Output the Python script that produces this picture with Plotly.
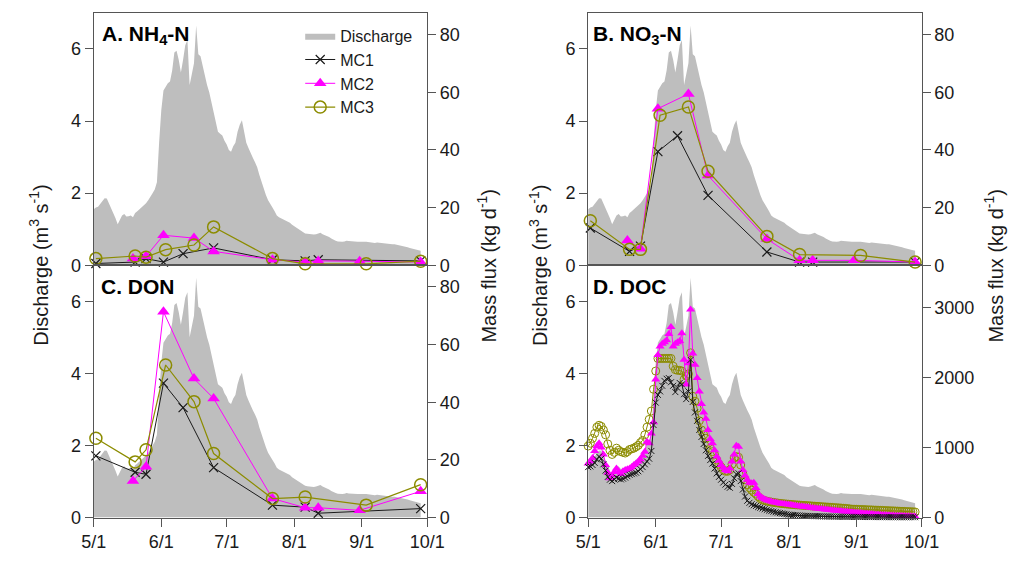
import plotly.graph_objects as go
import pandas as pd

YEAR = 2013

# ---------------- Data ----------------
# Daily discharge (m3 s-1) from 5/1
discharge = [
    1.55, 1.60, 1.62, 1.70, 1.80, 1.86, 1.85, 1.72, 1.60, 1.45,
    1.30, 1.14, 1.25, 1.38, 1.42, 1.35, 1.36, 1.38, 1.33, 1.45,
    1.50, 1.55, 1.60, 1.65, 1.72, 1.80, 1.92, 2.00, 2.10, 2.30,
    3.40, 4.30, 4.85, 4.95, 5.05, 5.10, 5.40, 5.90, 5.95, 5.70,
    5.35, 5.70, 6.10, 6.25, 5.00, 5.30, 5.60, 6.65, 5.85, 5.80,
    5.50, 5.25, 5.00, 4.80, 4.50, 4.25, 3.95, 3.70, 3.65, 3.60,
    3.45, 3.35, 3.20, 3.15, 3.30, 3.40, 3.70, 3.90, 4.02, 3.70,
    3.40, 3.25, 3.10, 2.98, 2.86, 2.72, 2.50, 2.30, 2.10, 1.95,
    1.80, 1.68, 1.60, 1.50, 1.38, 1.33, 1.30, 1.27, 1.25, 1.20,
    1.18, 1.12, 1.08, 1.04, 1.00, 0.95, 0.91, 0.88, 0.87, 0.86,
    0.86, 0.85, 0.86, 0.89, 0.90, 0.86, 0.84, 0.82, 0.78, 0.74,
    0.70, 0.68, 0.66, 0.65, 0.65, 0.66, 0.68, 0.67, 0.66, 0.66,
    0.66, 0.65, 0.65, 0.64, 0.65, 0.65, 0.64, 0.63, 0.63, 0.62,
    0.63, 0.62, 0.61, 0.60, 0.60, 0.59, 0.59, 0.58, 0.58, 0.57,
    0.56, 0.55, 0.53, 0.52, 0.50, 0.48, 0.46, 0.44, 0.43, 0.42,
    0.40,
]

# Sampling dates (month/day)
mc1_dates = ["5/2", "5/20", "5/25", "6/2", "6/11", "6/25", "7/22", "8/6", "8/12", "9/28"]
mc2_dates = ["5/19", "5/25", "6/2", "6/16", "6/25", "7/22", "8/6", "8/12", "8/31", "9/28"]
mc3_dates = ["5/2", "5/20", "5/25", "6/3", "6/16", "6/25", "7/22", "8/6", "9/3", "9/28"]

# Mass flux (kg d-1)
nh4_mc1 = [0.6, 1.1, 2.3, 1.1, 4.0, 6.0, 1.9, 1.5, 1.9, 1.5]
nh4_mc2 = [2.3, 3.1, 10.4, 9.4, 4.8, 1.9, 1.1, 1.5, 1.4, 1.1]
nh4_mc3 = [2.3, 3.2, 2.8, 5.4, 7.0, 13.3, 2.3, 0.5, 0.5, 1.4]

no3_mc1 = [12.9, 4.8, 6.6, 39.4, 44.9, 24.2, 4.6, 1.1, 1.1, 1.1]
no3_mc2 = [8.6, 5.7, 54.3, 59.4, 31.1, 9.1, 1.7, 1.7, 1.7, 1.1]
no3_mc3 = [15.4, 5.5, 5.5, 52.0, 54.9, 32.6, 10.0, 3.7, 3.4, 1.1]

don_mc1 = [21.4, 15.7, 15.0, 46.6, 38.1, 17.3, 4.3, 3.6, 1.5, 3.1]
don_mc2 = [12.7, 17.6, 71.4, 48.2, 41.3, 6.6, 3.4, 3.4, 2.5, 9.1]
don_mc3 = [27.5, 19.3, 23.5, 52.9, 40.2, 22.2, 6.6, 7.1, 4.3, 11.4]

# Daily DOC mass flux (kg d-1) from 5/1
doc_mc1 = [
    720, 730, 750, 780, 830, 870, 840, 760, 670, 580,
    540, 520, 545, 570, 555, 545, 555, 570, 590, 610,
    620, 630, 640, 660, 690, 720, 760, 800, 840, 950,
    1320, 1640, 1750, 1800, 1880, 1950, 1980, 1990, 1930, 1880,
    1790, 1850, 1920, 1900, 1760, 1690, 1800, 2250, 1650, 1500,
    1380, 1250, 1150, 1050, 960, 880, 820, 770, 700, 630,
    580, 540, 500, 470, 440, 425, 480, 560, 620, 630,
    520, 400, 300, 240, 210, 190, 175, 165, 150, 140,
    130, 120, 110, 100, 92, 84, 76, 70, 64, 58,
    52, 47, 42, 39, 36, 33, 31, 29, 27, 25,
    24, 23, 22, 21, 20, 19, 18, 17, 16, 15,
    15, 14, 14, 13, 13, 12, 12, 11, 11, 10,
    10, 10, 9, 9, 9, 8, 8, 8, 8, 7,
    7, 7, 7, 7, 6, 6, 6, 6, 6, 6,
    5, 5, 5, 5, 5, 5, 5, 5, 5, 5,
    5,
]
doc_mc2 = [
    770, 800, 850, 950, 1020, 1060, 1000, 900, 750, 640,
    560, 600, 650, 700, 650, 620, 660, 680, 690, 700,
    720, 750, 770, 800, 830, 880, 940, 1080, 1060, 1200,
    1360, 1970, 2320, 2440, 2480, 2500, 2530, 2620, 2720, 2440,
    2480, 2500, 2520, 2630, 2250, 1900, 2200, 2970, 2340, 2180,
    1990, 1800, 1620, 1500, 1410, 1250, 1120, 1060, 960, 870,
    810, 750, 710, 680, 660, 700, 800, 900, 1025, 1010,
    800, 680, 600, 540, 500, 490, 495, 420, 335, 300,
    280, 262, 248, 238, 228, 220, 213, 207, 202, 198,
    194, 190, 186, 181, 176, 171, 166, 162, 158, 154,
    150, 146, 141, 137, 133, 129, 125, 121, 117, 114,
    111, 108, 104, 101, 98, 95, 92, 88, 85, 82,
    78, 75, 72, 70, 67, 64, 61, 59, 56, 53,
    50, 48, 45, 43, 40, 38, 36, 34, 32, 30,
    28, 27, 25, 24, 22, 21, 19, 18, 17, 16,
    15,
]
doc_mc3 = [
    1020, 1060, 1130, 1200, 1290, 1316, 1300, 1250, 1180, 1050,
    960, 900, 930, 990, 960, 940, 930, 920, 940, 970,
    980, 990, 1010, 1030, 1070, 1100, 1180, 1290, 1400, 1520,
    1830, 2090, 2270, 2270, 2270, 2270, 2270, 2270, 2270, 2160,
    2110, 2100, 2100, 2090, 1970, 2020, 2050, 2350, 1730, 1660,
    1560, 1380, 1250, 1180, 1130, 1060, 990, 940, 895, 820,
    760, 720, 680, 660, 660, 680, 760, 850, 870, 860,
    750, 620, 540, 470, 425, 390, 360, 335, 300, 270,
    252, 242, 234, 227, 221, 216, 211, 207, 203, 199,
    196, 193, 190, 187, 185, 182, 180, 178, 175, 173,
    171, 169, 167, 164, 162, 160, 158, 155, 153, 151,
    149, 147, 145, 142, 140, 138, 136, 133, 131, 128,
    124, 120, 119, 118, 116, 115, 114, 113, 111, 110,
    109, 107, 106, 105, 103, 102, 100, 99, 97, 96,
    95, 93, 92, 90, 89, 88, 86, 85, 83, 82,
    80,
]

month_ticks = ["5/1", "6/1", "7/1", "8/1", "9/1", "10/1"]


def md(s):
    m, d = s.split("/")
    return f"{YEAR}-{int(m):02d}-{int(d):02d}"


q_dates = pd.date_range(f"{YEAR}-05-01", periods=len(discharge))
doc_dates = pd.date_range(f"{YEAR}-05-01", periods=len(doc_mc1))

# ---------------- Styling ----------------
FONT = "Arial, Liberation Sans, sans-serif"
GREY_FILL = "#bebebe"
C1, C2, C3 = "#1a1a1a", "#ff00ff", "#8c8c00"
AXC = "#555555"
# page body keeps its default 8px margin, so the figure is 16px smaller than the window
OFF = 8
W, H = 1032 - 2 * OFF, 565 - 2 * OFF


def px(x):
    return (x - OFF) / W


def py(y):
    return 1 - (y - OFF) / H


XL = [px(83), px(427)]
XR = [px(593), px(937)]
YT = [py(270), py(13)]
YB = [py(527), py(270)]

fig = go.Figure()

panels = [
    ("x", "y", "y5", nh4_mc1, nh4_mc2, nh4_mc3, True),
    ("x2", "y2", "y6", no3_mc1, no3_mc2, no3_mc3, False),
    ("x3", "y3", "y7", don_mc1, don_mc2, don_mc3, False),
]

for xa, ya, yr, m1, m2, m3, leg in panels:
    fig.add_trace(go.Scatter(x=q_dates, y=discharge, xaxis=xa, yaxis=ya, mode="lines",
                             fill="tozeroy", fillcolor=GREY_FILL, line=dict(width=0, color=GREY_FILL),
                             name="Discharge", showlegend=leg))
    fig.add_trace(go.Scatter(x=[md(s) for s in mc1_dates], y=m1, xaxis=xa, yaxis=yr, mode="lines+markers",
                             line=dict(color=C1, width=1), cliponaxis=False,
                             marker=dict(symbol="x-thin-open", size=9, line=dict(color=C1, width=1.2)),
                             name="MC1", showlegend=leg))
    fig.add_trace(go.Scatter(x=[md(s) for s in mc2_dates], y=m2, xaxis=xa, yaxis=yr, mode="lines+markers",
                             line=dict(color=C2, width=1), cliponaxis=False,
                             marker=dict(symbol="triangle-up", size=11, color=C2),
                             name="MC2", showlegend=leg))
    fig.add_trace(go.Scatter(x=[md(s) for s in mc3_dates], y=m3, xaxis=xa, yaxis=yr, mode="lines+markers",
                             line=dict(color=C3, width=1.2), cliponaxis=False,
                             marker=dict(symbol="circle-open", size=12, color=C3, line=dict(width=1.5)),
                             name="MC3", showlegend=leg))

# Panel D (daily DOC)
fig.add_trace(go.Scatter(x=q_dates, y=discharge, xaxis="x4", yaxis="y4", mode="lines",
                         fill="tozeroy", fillcolor=GREY_FILL, line=dict(width=0, color=GREY_FILL),
                         name="Discharge", showlegend=False))
fig.add_trace(go.Scatter(x=doc_dates, y=doc_mc3, xaxis="x4", yaxis="y8", mode="lines+markers",
                         line=dict(color=C3, width=1), cliponaxis=False,
                         marker=dict(symbol="circle-open", size=8, color=C3, line=dict(width=1)),
                         name="MC3", showlegend=False))
fig.add_trace(go.Scatter(x=doc_dates, y=doc_mc2, xaxis="x4", yaxis="y8", mode="lines+markers",
                         line=dict(color=C2, width=1), cliponaxis=False,
                         marker=dict(symbol="triangle-up", size=8, color=C2),
                         name="MC2", showlegend=False))
fig.add_trace(go.Scatter(x=doc_dates, y=doc_mc1, xaxis="x4", yaxis="y8", mode="lines+markers",
                         line=dict(color=C1, width=1), cliponaxis=False,
                         marker=dict(symbol="x-thin-open", size=6, line=dict(color=C1, width=1)),
                         name="MC1", showlegend=False))

xrange = [md("5/1"), md("10/1")]
tickfont = dict(family=FONT, size=18, color="#1a1a1a")


def xax(domain, anchor, labels):
    return dict(domain=domain, anchor=anchor, type="date", range=xrange,
                tickvals=[md(t) for t in month_ticks], ticktext=month_ticks,
                showticklabels=labels, ticks="outside" if labels else "", ticklen=8,
                tickcolor=AXC, showline=True, mirror=True, linecolor=AXC, linewidth=1,
                showgrid=False, zeroline=False, tickfont=tickfont)


def yax(domain, anchor):
    return dict(domain=domain, anchor=anchor, range=[0, 7], tickvals=[0, 2, 4, 6],
                ticks="outside", ticklen=8, tickcolor=AXC, showline=True, linecolor=AXC,
                linewidth=1, showgrid=False, zeroline=False, tickfont=tickfont)


def yrax(over, anchor, rng, tv):
    return dict(overlaying=over, anchor=anchor, side="right", range=rng, tickvals=tv,
                ticks="outside", ticklen=8, tickcolor=AXC, showline=True, linecolor=AXC,
                linewidth=1, showgrid=False, zeroline=False, tickfont=tickfont)


flux_ticks = [0, 20, 40, 60, 80]
fig.update_layout(
    width=W, height=H, autosize=False,
    margin=dict(l=0, r=0, t=0, b=0),
    paper_bgcolor="white", plot_bgcolor="white",
    font=dict(family=FONT, size=18, color="#1a1a1a"),
    xaxis=xax(XL, "y", False), xaxis2=xax(XR, "y2", False),
    xaxis3=xax(XL, "y3", True), xaxis4=xax(XR, "y4", True),
    yaxis=yax(YT, "x"), yaxis2=yax(YT, "x2"), yaxis3=yax(YB, "x3"), yaxis4=yax(YB, "x4"),
    yaxis5=yrax("y", "x", [0, 87.5], flux_ticks),
    yaxis6=yrax("y2", "x2", [0, 87.5], flux_ticks),
    yaxis7=yrax("y3", "x3", [0, 87.5], flux_ticks),
    yaxis8=yrax("y4", "x4", [0, 3600], [0, 1000, 2000, 3000]),
    legend=dict(x=px(296), y=py(19), xanchor="left", yanchor="top",
                bgcolor="rgba(0,0,0,0)", font=dict(family=FONT, size=16),
                tracegroupgap=0, itemwidth=30),
    showlegend=True,
)

annos = [
    ("<b>A. NH<sub>4</sub>-N</b>", 90, 35),
    ("<b>B. NO<sub>3</sub>-N</b>", 596, 35),
    ("<b>C. DON</b>", 88, 292),
    ("<b>D. DOC</b>", 596, 292),
]
for txt, ax_, ay_ in annos:
    fig.add_annotation(text=txt, xref="paper", yref="paper", x=px(ax_), y=py(ay_),
                       xanchor="left", yanchor="middle", showarrow=False,
                       font=dict(family=FONT, size=21, color="black"))

ytitles = [
    ("Discharge (m<sup>3</sup> s<sup>-1</sup>)", 26),
    ("Mass flux (kg d<sup>-1</sup>)", 488),
    ("Discharge (m<sup>3</sup> s<sup>-1</sup>)", 541),
    ("Mass flux (kg d<sup>-1</sup>)", 1011),
]
for txt, ax_ in ytitles:
    fig.add_annotation(text=txt, xref="paper", yref="paper", x=px(ax_), y=py(270),
                       xanchor="center", yanchor="middle", textangle=-90, showarrow=False,
                       font=dict(family=FONT, size=20, color="#1a1a1a"))

fig.write_html("out.html", config={"displayModeBar": False})
